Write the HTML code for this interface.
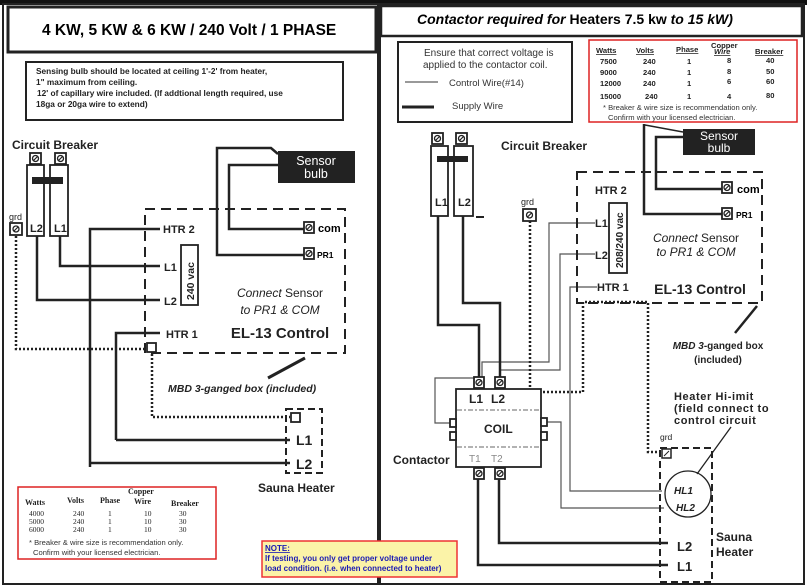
<!DOCTYPE html>
<html><head><meta charset="utf-8"><style>
html,body{margin:0;padding:0;background:#fff;}
svg{display:block;font-family:"Liberation Sans",Arial,sans-serif;}
.b{font-weight:bold;}
</style></head><body>
<svg width="807" height="587" viewBox="0 0 807 587" xmlns="http://www.w3.org/2000/svg">
<defs>
<g id="scr"><circle cx="0" cy="0" r="3" fill="none" stroke="#222" stroke-width="1.3"/><line x1="-2" y1="2" x2="2" y2="-2" stroke="#222" stroke-width="1.2"/></g>
</defs>
<rect x="0" y="0" width="807" height="5" fill="#111"/>
<rect x="3" y="4" width="375" height="580" fill="none" stroke="#222" stroke-width="2"/>
<rect x="380" y="4" width="424" height="580" fill="none" stroke="#222" stroke-width="2"/>
<rect x="8" y="7" width="368" height="45" fill="#fff" stroke="#222" stroke-width="3"/>
<text x="42" y="35" font-size="15.5" class="b">4 KW, 5 KW &amp; 6 KW /  240 Volt / 1 PHASE</text>
<rect x="381" y="6" width="421" height="30" fill="#fff" stroke="#222" stroke-width="2.5"/>
<text x="417" y="24" font-size="14" class="b"><tspan font-style="italic">Contactor required for</tspan> Heaters 7.5 kw <tspan font-style="italic">to 15 kW)</tspan></text>

<rect x="26" y="62" width="317" height="58" fill="none" stroke="#222" stroke-width="2"/>
<g font-size="8.3" class="b" fill="#222">
<text x="36" y="74">Sensing bulb should be located at ceiling 1'-2' from heater,</text>
<text x="36" y="85">1" maximum from ceiling.</text>
<text x="37" y="96">12' of capillary wire included. (If addtional length required, use</text>
<text x="36" y="107">18ga or 20ga wire to extend)</text>
</g>

<!-- LEFT DIAGRAM -->
<text x="12" y="149" font-size="12" class="b" fill="#222">Circuit Breaker</text>
<g stroke="#222" stroke-width="1.8" fill="#fff">
<rect x="30" y="153" width="11" height="11"/><rect x="55" y="153" width="11" height="11"/>
<rect x="27" y="165" width="17" height="71"/><rect x="50" y="165" width="18" height="71"/>
<rect x="10" y="223" width="12" height="12"/>
</g>
<use href="#scr" x="35.5" y="158.5"/><use href="#scr" x="60.5" y="158.5"/><use href="#scr" x="16" y="229"/>
<rect x="32" y="177" width="31" height="7" fill="#222"/>
<g font-size="11" class="b" fill="#222"><text x="30" y="232">L2</text><text x="54" y="232">L1</text></g>
<text x="9" y="220" font-size="9" fill="#222">grd</text>
<g fill="none" stroke="#222" stroke-width="2.5">
<path d="M90 467 V229 H160"/>
<path d="M60 236 V266 H160"/>
<path d="M37 236 V300 H160"/>
<path d="M116 440 V333 H160"/>
<path d="M90 463 H290"/>
<path d="M116 440 H290"/>
<path d="M305 229 H229 V165 H278"/>
<path d="M305 255 H217 V148 H271 L278 154"/>
<path d="M305 358 L268 378" stroke-width="3"/>
</g>
<g fill="none" stroke="#222" stroke-width="2.5" stroke-dasharray="2 2">
<path d="M16 236 V349 H145"/>
<path d="M152 354 V417 H290"/>
</g>
<rect x="145" y="209" width="200" height="144" fill="none" stroke="#222" stroke-width="2" stroke-dasharray="10 6"/>
<g font-size="11" class="b" fill="#222">
<text x="163" y="233">HTR  2</text><text x="164" y="271">L1</text><text x="164" y="305">L2</text><text x="166" y="338">HTR 1</text>
</g>
<rect x="181" y="245" width="17" height="60" fill="#fff" stroke="#222" stroke-width="1.8"/>
<text transform="translate(194,300) rotate(-90)" font-size="10.5" class="b" fill="#222">240 vac</text>
<g stroke="#222" stroke-width="1.8" fill="#fff"><rect x="304" y="222" width="10" height="11"/><rect x="304" y="248" width="10" height="11"/><rect x="147" y="343" width="9" height="9"/><rect x="291" y="413" width="9" height="9"/></g>
<use href="#scr" x="309" y="227.5"/><use href="#scr" x="309" y="253.5"/>
<text x="318" y="232" font-size="11" class="b">com</text>
<text x="317" y="258" font-size="8.5" class="b">PR1</text>
<rect x="278" y="151" width="77" height="32" fill="#222"/>
<text x="316" y="165" font-size="12.5" fill="#fff" text-anchor="middle">Sensor</text>
<text x="316" y="178" font-size="12.5" fill="#fff" text-anchor="middle">bulb</text>
<text x="280" y="297" font-size="12" text-anchor="middle" fill="#222"><tspan font-style="italic">Connect</tspan> Sensor</text>
<text x="280" y="314" font-size="12" font-style="italic" text-anchor="middle" fill="#222">to PR1 &amp; COM</text>
<text x="280" y="338" font-size="15" class="b" text-anchor="middle" fill="#222">EL-13 Control</text>
<text x="168" y="392" font-size="10.5" class="b" font-style="italic" fill="#222">MBD 3-ganged box (included)</text>
<rect x="286" y="409" width="36" height="64" fill="none" stroke="#222" stroke-width="2" stroke-dasharray="7 4"/>
<g font-size="14" class="b" fill="#222"><text x="296" y="445">L1</text><text x="296" y="469">L2</text></g>
<text x="258" y="492" font-size="12" class="b" fill="#222">Sauna Heater</text>

<rect x="18" y="487" width="198" height="72" fill="#fff" stroke="#d22" stroke-width="1.5"/>
<g font-family="Liberation Serif,serif" fill="#222">
<g font-size="8" class="b"><text x="128" y="494">Copper</text><text x="25" y="505">Watts</text><text x="67" y="503">Volts</text><text x="100" y="503">Phase</text><text x="134" y="504">Wire</text><text x="171" y="506">Breaker</text></g>
<g font-size="7.5"><text x="29" y="516">4000</text><text x="73" y="516">240</text><text x="108" y="516">1</text><text x="144" y="516">10</text><text x="179" y="516">30</text>
<text x="29" y="524">5000</text><text x="73" y="524">240</text><text x="108" y="524">1</text><text x="144" y="524">10</text><text x="179" y="524">30</text>
<text x="29" y="532">6000</text><text x="73" y="532">240</text><text x="108" y="532">1</text><text x="144" y="532">10</text><text x="179" y="532">30</text></g>
</g>
<g font-size="7.6" fill="#333"><text x="29" y="545">* Breaker &amp; wire size is recommendation only.</text><text x="33" y="555">Confirm with your licensed electrician.</text></g>

<rect x="262" y="541" width="195" height="36" fill="#fbf3a8" stroke="#e33" stroke-width="1.5"/>
<g font-size="8" class="b" fill="#1a1ab4"><text x="265" y="551" text-decoration="underline">NOTE:</text>
<text x="265" y="561">If testing, you only get proper voltage under</text>
<text x="265" y="571">load condition. (i.e. when connected to heater)</text></g>

<!-- RIGHT legend -->
<rect x="398" y="42" width="174" height="80" fill="none" stroke="#222" stroke-width="2"/>
<g font-size="10" fill="#333"><text x="424" y="56">Ensure that correct voltage is</text><text x="423" y="68">applied to the contactor coil.</text>
<text x="449" y="86" font-size="9.5">Control Wire(#14)</text><text x="452" y="109" font-size="9.5">Supply Wire</text></g>
<line x1="405" y1="82" x2="438" y2="82" stroke="#333" stroke-width="1"/>
<line x1="402" y1="107" x2="434" y2="107" stroke="#222" stroke-width="3"/>
<rect x="589" y="40" width="208" height="82" fill="#fff" stroke="#d22" stroke-width="1.5"/>
<g font-size="7.6" class="b" fill="#222">
<text x="596" y="53" text-decoration="underline">Watts</text><text x="636" y="53" text-decoration="underline">Volts</text><text x="676" y="52" text-decoration="underline">Phase</text><text x="711" y="48">Copper</text><text x="714" y="54" font-style="italic" text-decoration="underline">Wire</text><text x="755" y="54" text-decoration="underline">Breaker</text>
<text x="600" y="64">7500</text><text x="643" y="64">240</text><text x="687" y="64">1</text><text x="727" y="63">8</text><text x="766" y="63">40</text>
<text x="600" y="75">9000</text><text x="643" y="75">240</text><text x="687" y="75">1</text><text x="727" y="74">8</text><text x="766" y="74">50</text>
<text x="600" y="86">12000</text><text x="643" y="86">240</text><text x="687" y="86">1</text><text x="727" y="84">6</text><text x="766" y="84">60</text>
<text x="600" y="99">15000</text><text x="645" y="99">240</text><text x="687" y="99">1</text><text x="727" y="99">4</text><text x="766" y="98">80</text>
</g>
<g font-size="7.6" fill="#333"><text x="603" y="110">* Breaker &amp; wire size is recommendation only.</text><text x="608" y="120">Confirm with your licensed electrician.</text></g>

<!-- RIGHT DIAGRAM -->
<g stroke="#222" stroke-width="1.8" fill="#fff">
<rect x="432" y="133" width="11" height="11"/><rect x="456" y="133" width="11" height="11"/>
<rect x="431" y="146" width="17" height="70"/><rect x="454" y="146" width="19" height="70"/>
<rect x="523" y="209" width="13" height="12"/>
</g>
<use href="#scr" x="437.5" y="138.5"/><use href="#scr" x="461.5" y="138.5"/><use href="#scr" x="529.5" y="215"/>
<rect x="437" y="156" width="31" height="6" fill="#222"/>
<line x1="476" y1="217" x2="484" y2="217" stroke="#222" stroke-width="2"/>
<g font-size="11" class="b" fill="#222"><text x="435" y="206">L1</text><text x="458" y="206">L2</text></g>
<text x="501" y="150" font-size="12" class="b" fill="#222">Circuit Breaker</text>
<text x="521" y="205" font-size="9" fill="#222">grd</text>

<g fill="none" stroke="#555" stroke-width="1.2">
<path d="M595 223 H549 V362 H482 V377"/>
<path d="M595 254 H560 V370 H500 V377"/>
<path d="M597 287 H570 V491 H662"/>
<path d="M450 423 H435 V378 H475"/>
<path d="M547 422 H561 V508 H664"/>
</g>
<g fill="none" stroke="#222" stroke-width="2.5">
<path d="M438 216 V325 H479 V377"/>
<path d="M463 216 V303 H500 V377"/>
<path d="M478 476 V565 H668"/>
<path d="M499 476 V543 H668"/>
<path d="M722 189 H656 V137 H683"/>
<path d="M722 214 H644 V124"/>
<path d="M645 125 L683 132" stroke-width="1.5"/>
<path d="M757 306 L735 333"/>
<path d="M731 427 L697 474" stroke-width="1.3"/>
</g>
<g fill="none" stroke="#222" stroke-width="2.5" stroke-dasharray="2 2">
<path d="M530 221 V392 H583 V302 H648 V452 H662"/>
</g>
<rect x="577" y="172" width="185" height="131" fill="none" stroke="#222" stroke-width="2" stroke-dasharray="10 6"/>
<g font-size="11" class="b" fill="#222">
<text x="595" y="194">HTR 2</text><text x="595" y="227">L1</text><text x="595" y="259">L2</text><text x="597" y="291">HTR 1</text></g>
<rect x="609" y="203" width="18" height="70" fill="#fff" stroke="#222" stroke-width="1.8"/>
<text transform="translate(623,268) rotate(-90)" font-size="10" class="b" fill="#222">208/240 vac</text>
<g stroke="#222" stroke-width="1.8" fill="#fff"><rect x="722" y="182" width="10" height="11"/><rect x="722" y="208" width="10" height="11"/></g>
<use href="#scr" x="727" y="187.5"/><use href="#scr" x="727" y="213.5"/>
<text x="737" y="193" font-size="11" class="b">com</text>
<text x="736" y="218" font-size="8.5" class="b">PR1</text>
<rect x="683" y="129" width="72" height="26" fill="#222"/>
<text x="719" y="140" font-size="12" fill="#fff" text-anchor="middle">Sensor</text>
<text x="719" y="152" font-size="12" fill="#fff" text-anchor="middle">bulb</text>
<text x="696" y="242" font-size="12" text-anchor="middle" fill="#222"><tspan font-style="italic">Connect</tspan> Sensor</text>
<text x="696" y="256" font-size="12" font-style="italic" text-anchor="middle" fill="#222">to PR1 &amp; COM</text>
<text x="700" y="294" font-size="14" class="b" text-anchor="middle" fill="#222">EL-13 Control</text>
<text x="718" y="349" font-size="10" class="b" text-anchor="middle" fill="#222"><tspan font-style="italic">MBD 3</tspan>-ganged box</text>
<text x="718" y="363" font-size="10" class="b" text-anchor="middle" fill="#222">(included)</text>

<g stroke="#222" stroke-width="1.8" fill="#fff">
<rect x="474" y="377" width="10" height="11"/><rect x="495" y="377" width="10" height="11"/>
<rect x="456" y="389" width="85" height="78"/>
<rect x="450" y="419" width="6" height="8"/><rect x="450" y="432" width="6" height="8"/>
<rect x="541" y="418" width="6" height="8"/><rect x="541" y="432" width="6" height="8"/>
<rect x="474" y="468" width="10" height="11"/><rect x="495" y="468" width="10" height="11"/>
</g>
<use href="#scr" x="479" y="382.5"/><use href="#scr" x="500" y="382.5"/><use href="#scr" x="479" y="473.5"/><use href="#scr" x="500" y="473.5"/>
<g stroke="#999" stroke-width="1.5" stroke-dasharray="5 2 2 2"><line x1="457" y1="410" x2="540" y2="410"/><line x1="457" y1="447" x2="540" y2="447"/></g>
<g font-size="12" class="b" fill="#222"><text x="469" y="403">L1</text><text x="491" y="403">L2</text><text x="484" y="433">COIL</text></g>
<g font-size="10" fill="#888"><text x="469" y="462">T1</text><text x="491" y="462">T2</text></g>
<text x="393" y="464" font-size="12" class="b" fill="#222">Contactor</text>

<text x="674" y="400" font-size="11" class="b" letter-spacing="0.6" fill="#222">Heater Hi-imit</text>
<text x="674" y="412" font-size="11" class="b" letter-spacing="0.6" fill="#222">(field connect to</text>
<text x="674" y="424" font-size="11" class="b" letter-spacing="0.6" fill="#222">control circuit</text>
<text x="660" y="440" font-size="8.5" fill="#222">grd</text>
<rect x="660" y="448" width="52" height="134" fill="none" stroke="#222" stroke-width="2" stroke-dasharray="7 4"/>
<rect x="662" y="449" width="9" height="9" fill="#fff" stroke="#222" stroke-width="1.5"/>
<line x1="664" y1="456" x2="669" y2="451" stroke="#222" stroke-width="1"/>
<circle cx="688" cy="494" r="23" fill="none" stroke="#222" stroke-width="1.3"/>
<g font-size="10" class="b" font-style="italic" fill="#222"><text x="674" y="494">HL1</text><text x="676" y="511">HL2</text></g>
<g font-size="13" class="b" fill="#222"><text x="677" y="551">L2</text><text x="677" y="571">L1</text></g>
<g font-size="12" class="b" fill="#222"><text x="716" y="541">Sauna</text><text x="716" y="556">Heater</text></g>
</svg>
</body></html>
